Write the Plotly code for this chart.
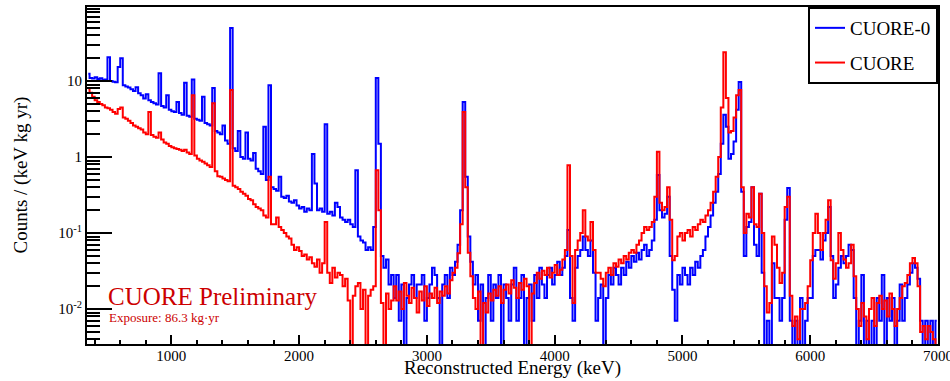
import plotly.graph_objects as go

# ---------------- data (counts / (keV kg yr), 20 keV bins starting at 340 keV) ----------------
bin_start = 340
bin_width = 20

cuore0 = [
    12.5, 11.0, 10.8, 11.2, 10.6, 10.9, 10.4, 10.5, 20.5, 10.0,   # 340-540
    9.8, 9.6, 15.3, 20.0, 8.8, 8.5, 8.2, 7.8, 7.4, 8.3,           # 540-740
    6.9, 6.5, 5.9, 6.7, 5.6, 5.3, 5.1, 4.9, 12.7, 4.7,            # 740-940
    4.5, 6.5, 4.2, 4.0, 3.9, 5.3, 3.8, 3.6, 9.5, 3.5,             # 940-1140
    3.4, 10.5, 3.2, 3.1, 3.0, 6.2, 2.8, 2.7, 2.6, 8.1,            # 1140-1340
    2.2, 2.1, 2.0, 2.6, 1.65, 1.5, 50.0, 1.3, 1.2, 2.2,           # 1340-1540
    1.0, 0.95, 2.1, 0.95, 0.9, 1.13, 0.7, 0.65, 0.6, 2.5,         # 1540-1740
    0.5, 8.8, 0.4, 0.38, 0.36, 0.55, 0.3, 0.29, 0.31, 0.26,       # 1740-1940
    0.25, 0.27, 0.23, 0.21, 0.22, 0.19, 0.21, 0.2, 1.1, 0.45,     # 1940-2140
    0.2, 0.21, 0.19, 2.7, 0.18, 0.19, 0.17, 0.25, 0.22, 0.16,     # 2140-2340
    0.15, 0.14, 0.15, 0.13, 0.12, 0.67, 0.09, 0.08, 0.075, 0.06,  # 2340-2540
    0.065, 0.06, 0.12, 11.0, 1.5, 0.05, 0.035, 0.045, 0.021, 0.028,  # 2540-2740
    0.014, 0.028, 0.007, 0.021, 0.0, 0.014, 0.021, 0.028, 0.014, 0.021,  # 2740-2940
    0.021, 0.028, 0.007, 0.014, 0.021, 0.035, 0.028, 0.014, 0.0, 0.021,  # 2940-3140
    0.028, 0.014, 0.035, 0.028, 0.042, 0.07, 0.2, 5.3, 0.55, 0.09,       # 3140-3340
    0.042, 0.021, 0.028, 0.007, 0.021, 0.0, 0.014, 0.028, 0.007, 0.021,  # 3340-3540
    0.014, 0.028, 0.0, 0.021, 0.014, 0.007, 0.021, 0.035, 0.007, 0.014,  # 3540-3740
    0.028, 0.0, 0.014, 0.021, 0.007, 0.028, 0.014, 0.035, 0.021, 0.014,  # 3740-3940
    0.028, 0.035, 0.021, 0.028, 0.042, 0.028, 0.035, 0.05, 0.11, 0.014,  # 3940-4140
    0.007, 0.035, 0.05, 0.06, 0.09, 0.06, 0.05, 0.08, 0.03, 0.007,       # 4140-4340
    0.014, 0.021, 0.0, 0.014, 0.028, 0.021, 0.035, 0.028, 0.021, 0.035,  # 4340-4540
    0.028, 0.042, 0.035, 0.05, 0.042, 0.055, 0.045, 0.06, 0.07, 0.05,    # 4540-4740
    0.06, 0.08, 0.15, 0.58, 0.2, 0.16, 0.18, 0.3, 0.05, 0.018,           # 4740-4940
    0.007, 0.028, 0.021, 0.035, 0.028, 0.021, 0.035, 0.028, 0.042, 0.035,  # 4940-5140
    0.05, 0.06, 0.09, 0.12, 0.17, 0.25, 0.35, 0.6, 1.5, 3.6,             # 5140-5340
    2.5, 0.95, 1.1, 1.6, 4.2, 9.7, 0.35, 0.05, 0.12, 0.14,               # 5340-5540
    0.4, 0.07, 0.05, 0.33, 0.03, 0.0, 0.007, 0.0, 0.04, 0.014,           # 5540-5740
    0.014, 0.007, 0.014, 0.15, 0.39, 0.007, 0.0, 0.007, 0.0, 0.014,      # 5740-5940
    0.0, 0.007, 0.014, 0.014, 0.05, 0.06, 0.06, 0.045, 0.08, 0.1,        # 5940-6140
    0.22, 0.05, 0.014, 0.021, 0.035, 0.05, 0.04, 0.05, 0.07, 0.06,       # 6140-6340
    0.014, 0.0, 0.007, 0.028, 0.0, 0.007, 0.0, 0.007, 0.0, 0.014,        # 6340-6540
    0.007, 0.028, 0.0, 0.014, 0.007, 0.014, 0.0, 0.007, 0.021, 0.007,    # 6540-6740
    0.014, 0.021, 0.03, 0.04, 0.035, 0.025, 0.007, 0.0, 0.007, 0.0,      # 6740-6940
    0.007, 0.0, 0.007,                                                   # 6940-7000
]

cuore = [
    8.0, 7.0, 6.2, 5.6, 5.3, 5.0, 4.8, 4.5, 4.4, 4.2,             # 340-540
    3.9, 3.7, 4.3, 4.5, 3.3, 3.2, 3.0, 2.8, 2.6, 2.5,             # 540-740
    2.4, 2.3, 2.1, 2.0, 3.9, 1.95, 1.85, 1.8, 2.1, 1.7,           # 740-940
    1.55, 1.5, 1.4, 1.35, 1.3, 1.28, 1.25, 1.2, 1.25, 1.15,       # 940-1140
    1.1, 6.5, 1.05, 0.95, 0.9, 0.87, 0.82, 0.78, 0.74, 5.1,       # 1140-1340
    0.65, 0.56, 0.55, 0.52, 0.5, 0.48, 7.6, 0.42, 0.4, 0.38,      # 1340-1540
    0.35, 0.33, 0.31, 0.28, 0.27, 0.24, 0.22, 0.21, 0.2, 0.17,    # 1540-1740
    0.16, 0.55, 0.13, 0.13, 0.16, 0.12, 0.11, 0.1, 0.09, 0.085,   # 1740-1940
    0.07, 0.06, 0.065, 0.058, 0.05, 0.052, 0.045, 0.048, 0.04, 0.036,    # 1940-2140
    0.045, 0.03, 0.04, 0.14, 0.03, 0.022, 0.035, 0.026, 0.03, 0.028,     # 2140-2340
    0.02, 0.025, 0.013, 0.0, 0.015, 0.02, 0.022, 0.01, 0.018, 0.0,       # 2340-2540
    0.015, 0.018, 0.02, 0.67, 0.2, 0.012, 0.0, 0.016, 0.01, 0.013,       # 2540-2740
    0.02, 0.013, 0.017, 0.01, 0.022, 0.015, 0.012, 0.019, 0.014, 0.009,  # 2740-2940
    0.017, 0.013, 0.02, 0.011, 0.016, 0.014, 0.019, 0.012, 0.017, 0.015, # 2940-3140
    0.02, 0.016, 0.024, 0.03, 0.035, 0.054, 0.13, 3.9, 0.4, 0.055,       # 3140-3340
    0.027, 0.014, 0.01, 0.017, 0.0, 0.012, 0.009, 0.016, 0.013, 0.018,   # 3340-3540
    0.015, 0.02, 0.012, 0.018, 0.021, 0.016, 0.024, 0.019, 0.014, 0.022, # 3540-3740
    0.018, 0.025, 0.02, 0.0, 0.016, 0.022, 0.03, 0.025, 0.032, 0.028,    # 3740-3940
    0.035, 0.026, 0.03, 0.038, 0.028, 0.033, 0.045, 0.06, 0.78, 0.05,    # 3940-4140
    0.012, 0.06, 0.08, 0.1, 0.2, 0.09, 0.08, 0.14, 0.06, 0.03,           # 4140-4340
    0.03, 0.025, 0.02, 0.03, 0.035, 0.028, 0.04, 0.036, 0.045, 0.04,     # 4340-4540
    0.05, 0.045, 0.055, 0.06, 0.055, 0.07, 0.08, 0.1, 0.12, 0.11,        # 4540-4740
    0.12, 0.14, 0.3, 1.17, 0.25, 0.2, 0.22, 0.4, 0.15, 0.044,            # 4740-4940
    0.05, 0.09, 0.1, 0.08, 0.1, 0.11, 0.09, 0.12, 0.11, 0.13,            # 4940-5140
    0.15, 0.14, 0.17, 0.2, 0.25, 0.35, 0.55, 1.0, 4.5, 24.0,             # 5140-5340
    6.0, 2.1, 2.2, 3.3, 6.5, 7.6, 0.4, 0.1, 0.18, 0.16,                  # 5340-5540
    0.4, 0.13, 0.12, 0.33, 0.1, 0.02, 0.009, 0.012, 0.09, 0.07,          # 5540-5740
    0.035, 0.022, 0.03, 0.22, 0.3, 0.015, 0.006, 0.008, 0.004, 0.01,     # 5740-5940
    0.01, 0.012, 0.02, 0.044, 0.1, 0.18, 0.1, 0.06, 0.1, 0.15,           # 5940-6140
    0.27, 0.044, 0.025, 0.04, 0.1, 0.06, 0.045, 0.035, 0.04, 0.07,       # 6140-6340
    0.027, 0.01, 0.006, 0.012, 0.008, 0.004, 0.01, 0.014, 0.006, 0.012,  # 6340-6540
    0.015, 0.01, 0.013, 0.008, 0.016, 0.01, 0.006, 0.01, 0.014, 0.02,    # 6540-6740
    0.022, 0.028, 0.04, 0.047, 0.04, 0.02, 0.005, 0.006, 0.004, 0.006,   # 6740-6940
    0.005, 0.004, 0.0,                                                   # 6940-7000
]

series_names = ["CUORE-0", "CUORE"]
x_tick_values = [1000, 2000, 3000, 4000, 5000, 6000, 7000]
x_tick_labels = ["1000", "2000", "3000", "4000", "5000", "6000", "7000"]
y_tick_values = [0.01, 0.1, 1, 10]
y_tick_labels = ["10<sup>-2</sup>", "10<sup>-1</sup>", "1", "10"]
x_title = "Reconstructed Energy (keV)"
y_title = "Counts / (keV kg yr)"
label_main = "CUORE Preliminary"
label_sub = "Exposure: 86.3 kg\u00b7yr"

# ---------------- figure ----------------
energy = [bin_start + bin_width * (i + 0.5) for i in range(len(cuore0))]
FLOOR = 1e-4  # empty bins drop below the axis like in ROOT


def clip(v):
    return [val if val > 0 else FLOOR for val in v]


FONT = "Liberation Serif, Times New Roman, serif"

fig = go.Figure()
fig.add_trace(go.Scatter(x=energy, y=clip(cuore0), mode="lines", name=series_names[0],
                         line=dict(color="#0000ff", width=2, shape="hvh"),
                         legendgroup="a"))
fig.add_trace(go.Scatter(x=energy, y=clip(cuore), mode="lines", name=series_names[1],
                         line=dict(color="#ff0000", width=2, shape="hvh"),
                         legendgroup="b"))

y_minor = [m * 10 ** k for k in range(-3, 2) for m in range(2, 10)]

fig.update_layout(
    width=950, height=381,
    margin=dict(l=87, r=12, t=7, b=37),
    paper_bgcolor="white", plot_bgcolor="white",
    font=dict(family=FONT, color="black", size=15),
    showlegend=True,
    legend=dict(x=1, y=1, xanchor="right", yanchor="top",
                bordercolor="black", borderwidth=2, bgcolor="white",
                font=dict(family=FONT, size=19, color="black"),
                traceorder="grouped", tracegroupgap=7),
    xaxis=dict(
        range=[340, 7000], showgrid=False, zeroline=False,
        showline=True, linecolor="black", linewidth=2, mirror=True,
        ticks="inside", ticklen=9, tickwidth=1.5, tickcolor="black",
        tickmode="array", tickvals=x_tick_values, ticktext=x_tick_labels,
        tickfont=dict(family=FONT, size=15), ticklabelstandoff=-3,
        ticklabeloverflow="allow",
        minor=dict(ticks="inside", ticklen=4.5, tickwidth=1.5, tickcolor="black",
                   dtick=200, tick0=0, showgrid=False),
        automargin=False,
    ),
    yaxis=dict(
        type="log", range=[-2.46, 1.974], showgrid=False, zeroline=False,
        showline=True, linecolor="black", linewidth=2, mirror=True,
        ticks="inside", ticklen=25, tickwidth=1.5, tickcolor="black",
        tickmode="array", tickvals=y_tick_values, ticktext=y_tick_labels,
        tickfont=dict(family=FONT, size=15),
        minor=dict(ticks="inside", ticklen=13, tickwidth=1.5, tickcolor="black",
                   tickmode="array", tickvals=y_minor, showgrid=False),
        automargin=False,
    ),
)

# axis titles (placed as annotations so they sit exactly like the ROOT canvas)
fig.add_annotation(xref="paper", yref="paper", x=0.5, y=-0.1095,
                   xanchor="center", yanchor="bottom", showarrow=False,
                   text=x_title, font=dict(family=FONT, size=19, color="black"))
fig.add_annotation(xref="paper", yref="paper", x=-0.0787, y=0.5,
                   xanchor="center", yanchor="middle", showarrow=False, textangle=-90,
                   text=y_title, font=dict(family=FONT, size=19, color="black"))

fig.add_annotation(xref="paper", yref="paper", x=0.0225, y=0.142,
                   xanchor="left", yanchor="middle", showarrow=False,
                   text=label_main, font=dict(family=FONT, size=25, color="#cc0000"))
fig.add_annotation(xref="paper", yref="paper", x=0.0235, y=0.079,
                   xanchor="left", yanchor="middle", showarrow=False,
                   text=label_sub, font=dict(family=FONT, size=13, color="#cc0000"))

fig.write_html("out.html", config={"displayModeBar": False},
               post_script="document.body.style.margin='0px';document.body.style.overflow='hidden';")
